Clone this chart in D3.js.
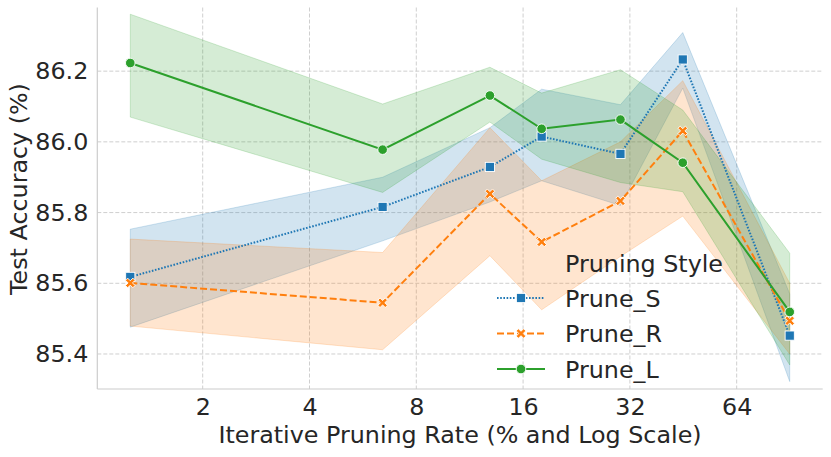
<!DOCTYPE html>
<html>
<head>
<meta charset='utf-8' />
<title>Pruning rate vs accuracy</title>
<script src="https://d3js.org/d3.v7.min.js"></script>
<style>
  html, body { margin: 0; padding: 0; background: #fff; }
  body { width: 831px; height: 457px; overflow: hidden; }
  svg text { font-family: 'DejaVu Sans', sans-serif; fill: #262626; }
  .grid line { stroke: #cfcfcf; stroke-width: 1; stroke-dasharray: 4 2; }
  .spine { stroke: #cccccc; stroke-width: 1.2; }
</style>
</head>
<body>
<svg id="chart" width="831" height="457"></svg>
<script>
  // pruning rates (x, log2 axis)
  const rates = [1.25, 6.43, 12.9, 18.05, 30.1, 45.1, 90.3]
  const styles = ['Prune_S', 'Prune_R', 'Prune_L']

  // mean accuracy and confidence band per style
  const pruneS = [85.618, 85.816, 85.929, 86.015, 85.966, 86.233, 85.452]
  const pruneSLow = [85.476, 85.720, 85.830, 85.890, 85.820, 86.152, 85.322]
  const pruneSHigh = [85.753, 85.900, 86.040, 86.149, 86.105, 86.309, 85.570]

  const pruneR = [85.601, 85.545, 85.853, 85.717, 85.833, 86.031, 85.494]
  const pruneRLow = [85.479, 85.412, 85.678, 85.525, 85.676, 85.790, 85.400]
  const pruneRHigh = [85.725, 85.687, 86.040, 85.890, 86.000, 86.173, 85.600]

  const pruneL = [86.223, 85.978, 86.131, 86.037, 86.063, 85.941, 85.519]
  const pruneLLow = [86.070, 85.857, 86.056, 85.951, 85.885, 85.859, 85.369]
  const pruneLHigh = [86.361, 86.107, 86.211, 86.138, 86.204, 86.090, 85.685]

  const xTicks = [2, 4, 8, 16, 32, 64]
  const yTicks = [85.4, 85.6, 85.8, 86.0, 86.2]

  const series = [
    { name: styles[0], mean: pruneS, low: pruneSLow, high: pruneSHigh, color: '#1f77b4', dash: '1.6 1.6', marker: 'square' },
    { name: styles[1], mean: pruneR, low: pruneRLow, high: pruneRHigh, color: '#ff7f0e', dash: '7 3', marker: 'x' },
    { name: styles[2], mean: pruneL, low: pruneLLow, high: pruneLHigh, color: '#2ca02c', dash: null, marker: 'circle' }
  ]

  const fontSize = '23.8px'
  const margin = { top: 7.5, right: 8.3, bottom: 68, left: 97.3 }
  const W = 831, H = 457
  const width = W - margin.left - margin.right
  const height = H - margin.top - margin.bottom

  // 5% padding in log space like matplotlib
  const lo = Math.log2(d3.min(rates)), hi = Math.log2(d3.max(rates))
  const pad = (hi - lo) * 0.05
  const x = d3.scaleLog().base(2)
    .domain([Math.pow(2, lo - pad), Math.pow(2, hi + pad)])
    .range([0, width])

  const y = d3.scaleLinear()
    .domain([85.301, 86.380])
    .range([height, 0])

  const svg = d3.select('#chart')
  const g = svg.append('g')
    .attr('transform', 'translate(' + margin.left + ',' + margin.top + ')')

  // grid
  const grid = g.append('g').attr('class', 'grid')
  grid.selectAll('.gx').data(xTicks).enter().append('line')
    .attr('x1', d => x(d)).attr('x2', d => x(d))
    .attr('y1', 0).attr('y2', height)
  grid.selectAll('.gy').data(yTicks).enter().append('line')
    .attr('x1', 0).attr('x2', width)
    .attr('y1', d => y(d)).attr('y2', d => y(d))

  // spines
  g.append('line').attr('class', 'spine').attr('x1', 0).attr('x2', 0).attr('y1', 0).attr('y2', height)
  g.append('line').attr('class', 'spine').attr('x1', 0).attr('x2', width).attr('y1', height).attr('y2', height)

  // tick labels via axes, without domain/tick lines
  const xAxis = g.append('g')
    .attr('transform', 'translate(0,' + height + ')')
    .call(d3.axisBottom(x).tickValues(xTicks).tickFormat(d3.format('d')).tickSize(0).tickPadding(9))
  const yAxis = g.append('g')
    .call(d3.axisLeft(y).tickValues(yTicks).tickFormat(d3.format('.1f')).tickSize(0).tickPadding(9))
  ;[xAxis, yAxis].forEach(a => {
    a.select('.domain').remove()
    a.selectAll('text').style('font-size', fontSize).style('font-family', 'DejaVu Sans').attr('fill', '#262626')
  })

  // bands
  const area = d3.area()
    .x(d => x(d.r))
    .y0(d => y(d.low))
    .y1(d => y(d.high))
  series.forEach(s => {
    const pts = rates.map((r, i) => ({ r, low: s.low[i], high: s.high[i] }))
    g.append('path')
      .datum(pts)
      .attr('d', area)
      .attr('fill', s.color)
      .attr('fill-opacity', 0.2)
      .attr('stroke', s.color)
      .attr('stroke-opacity', 0.2)
      .attr('stroke-width', 1)
  })

  const line = d3.line().x(d => x(d.r)).y(d => y(d.v))

  const drawMarker = (sel, kind, color, cx, cy) => {
    if (kind === 'square') {
      sel.append('rect')
        .attr('x', cx - 4.6).attr('y', cy - 4.6).attr('width', 9.2).attr('height', 9.2)
        .attr('fill', color).attr('stroke', '#fff').attr('stroke-width', 0.9)
    } else if (kind === 'circle') {
      sel.append('circle')
        .attr('cx', cx).attr('cy', cy).attr('r', 4.8)
        .attr('fill', color).attr('stroke', '#fff').attr('stroke-width', 0.9)
    } else {
      const a = 4.8, t = 2.2
      const p = [[-a, -a + t], [-a + t, -a], [0, -t], [a - t, -a], [a, -a + t], [t, 0],
                 [a, a - t], [a - t, a], [0, t], [-a + t, a], [-a, a - t], [-t, 0]]
      sel.append('path')
        .attr('d', 'M' + p.map(q => (cx + q[0]) + ',' + (cy + q[1])).join('L') + 'Z')
        .attr('fill', color).attr('stroke', '#fff').attr('stroke-width', 0.9)
    }
  }

  // lines and markers
  series.forEach(s => {
    const pts = rates.map((r, i) => ({ r, v: s.mean[i] }))
    g.append('path')
      .datum(pts)
      .attr('d', line)
      .attr('fill', 'none')
      .attr('stroke', s.color)
      .attr('stroke-width', 2)
      .attr('stroke-dasharray', s.dash)
    const mg = g.append('g')
    pts.forEach(p => drawMarker(mg, s.marker, s.color, x(p.r), y(p.v)))
  })

  // axis titles
  svg.append('text')
    .attr('x', margin.left + width / 2)
    .attr('y', 443)
    .attr('text-anchor', 'middle')
    .style('font-size', fontSize)
    .text('Iterative Pruning Rate (% and Log Scale)')

  svg.append('text')
    .attr('transform', 'translate(27,189) rotate(-90)')
    .attr('text-anchor', 'middle')
    .style('font-size', fontSize)
    .text('Test Accuracy (%)')

  // legend
  const legend = svg.append('g').attr('transform', 'translate(497,0)')
  legend.append('text').attr('x', 68).attr('y', 271.5).style('font-size', fontSize).text('Pruning Style')
  const rowY = [298, 333.5, 369]
  series.forEach((s, i) => {
    const row = legend.append('g')
    row.append('line')
      .attr('x1', 0).attr('x2', 48).attr('y1', rowY[i]).attr('y2', rowY[i])
      .attr('stroke', s.color).attr('stroke-width', 2).attr('stroke-dasharray', s.dash)
    drawMarker(row, s.marker, s.color, 24, rowY[i])
    row.append('text').attr('x', 68).attr('y', rowY[i] + 8.5).style('font-size', fontSize).text(s.name)
  })
</script>
</body>
</html>
